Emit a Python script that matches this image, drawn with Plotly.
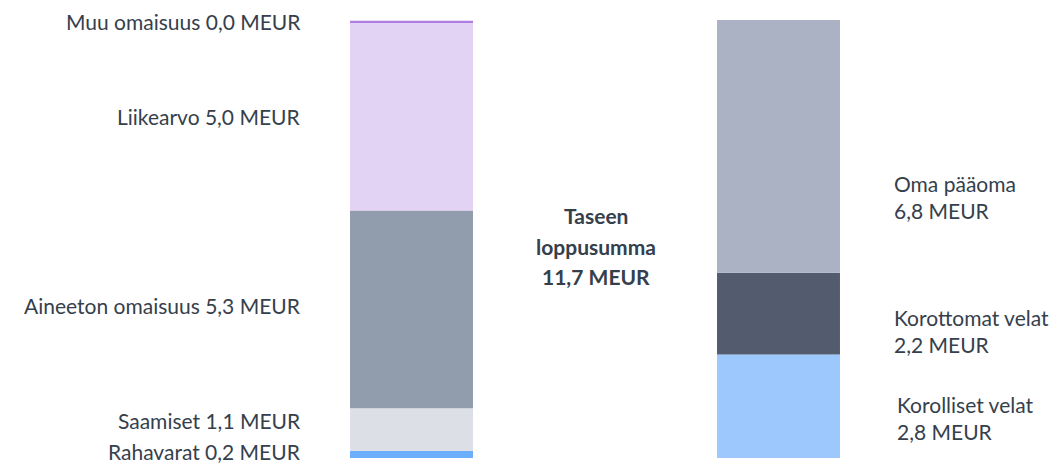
import plotly.graph_objects as go

# Data (MEUR)
asset_names = ["Rahavarat", "Saamiset", "Aineeton omaisuus", "Liikearvo", "Muu omaisuus"]
asset_values = [0.19, 1.14, 5.29, 5.03, 0.04]
liab_names = ["Korolliset velat", "Korottomat velat", "Oma pääoma"]
liab_values = [2.77, 2.18, 6.76]
total_label = "11,7 MEUR"
center_title = ["Taseen", "loppusumma"]

asset_colors = ["#6aaefc", "#dcdfe6", "#919cad", "#e2d2f4", "#b07ce0"]
liab_colors = ["#9dc8fd", "#525c6e", "#abb2c4"]
label_shift_assets = [3, 9, 4, 0, 0]
label_shift_liab = [-12, -17, -51]
label_xshift_liab = [116, 113, 113]

TEXT = "#35404c"
FONT = "Lato"
FS = 21

def fmt(v):
    return f"{v:.1f}".replace(".", ",")

fig = go.Figure()
annotations = []

base = 0.0
for name, v, c, ys in zip(asset_names, asset_values, asset_colors, label_shift_assets):
    fig.add_trace(go.Bar(x=[0], y=[v], base=[base], width=0.335, marker=dict(color=c, line=dict(width=0)),
                         name=name, hoverinfo="skip"))
    annotations.append(dict(x=0, y=base + v / 2, xref="x", yref="y", xanchor="right", yanchor="middle",
                            xshift=-109, yshift=ys, showarrow=False, align="right",
                            text=f"{name} {fmt(v)} MEUR", font=dict(family=FONT, size=FS, color=TEXT)))
    base += v

base = 0.0
for name, v, c, ys, xs in zip(liab_names, liab_values, liab_colors, label_shift_liab, label_xshift_liab):
    fig.add_trace(go.Bar(x=[1], y=[v], base=[base], width=0.335, marker=dict(color=c, line=dict(width=0)),
                         name=name, hoverinfo="skip"))
    annotations.append(dict(x=1, y=base + v / 2, xref="x", yref="y", xanchor="left", yanchor="middle",
                            xshift=xs, yshift=ys, showarrow=False, align="left",
                            text=f"{name}<br>{fmt(v)} MEUR", font=dict(family=FONT, size=FS, color=TEXT)))
    base += v

center_lines = center_title + [total_label]
for i, line in enumerate(center_lines):
    annotations.append(dict(x=0.5, y=0.5, xref="x", yref="paper", xanchor="center", yanchor="middle",
                            xshift=1, yshift=-7 + (1 - i) * 30.5, showarrow=False,
                            text=f"<b>{line}</b>", font=dict(family=FONT, size=21, color=TEXT)))

total = max(sum(asset_values), sum(liab_values))
fig.update_layout(
    width=1055, height=464,
    margin=dict(l=0, r=0, t=20, b=6),
    paper_bgcolor="white", plot_bgcolor="white",
    showlegend=False, barmode="overlay",
    xaxis=dict(range=[-1.1213, 1.7534], visible=False, fixedrange=True),
    yaxis=dict(range=[0, total], visible=False, fixedrange=True),
    annotations=annotations,
)
fig.write_html("out.html", config={"displayModeBar": False},
               post_script="document.body.style.margin='0';document.body.style.padding='0';")
